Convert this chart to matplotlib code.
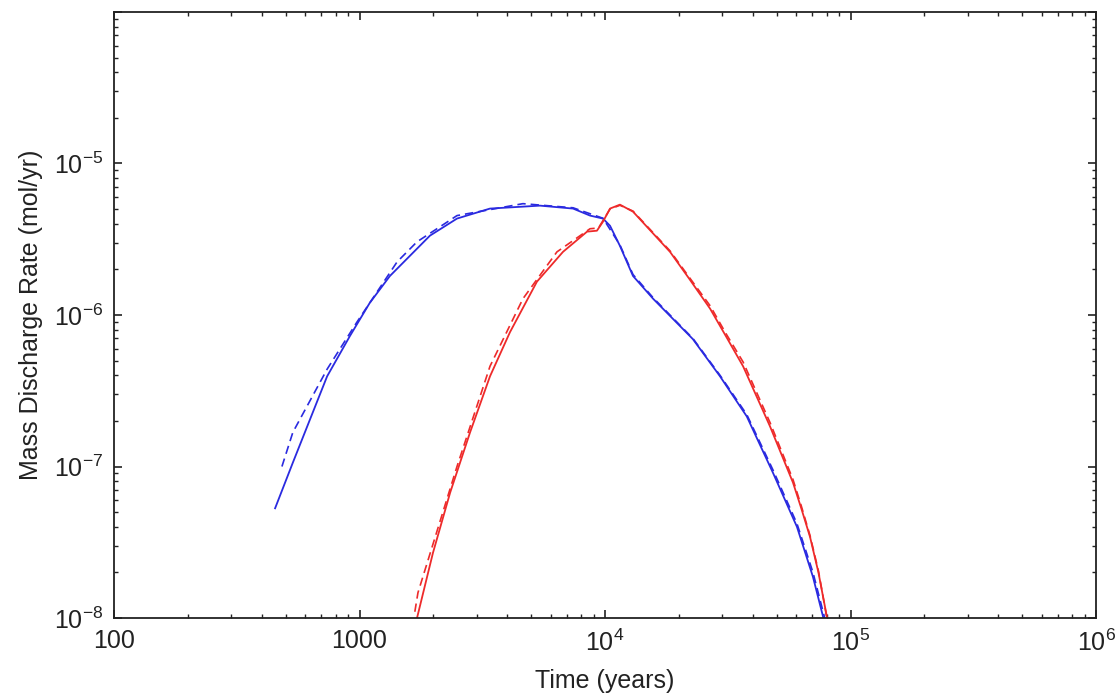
import matplotlib
matplotlib.use("Agg")
import matplotlib.pyplot as plt
from matplotlib.ticker import FixedLocator, FixedFormatter, LogLocator, NullFormatter

plt.rcParams['font.family'] = ['Liberation Sans', 'DejaVu Sans']
plt.rcParams['mathtext.fontset'] = 'custom'
plt.rcParams['mathtext.rm'] = 'Liberation Sans'

# blue, solid
blue_t = [453, 535, 738, 914, 1100, 1330, 1936, 2495, 3400, 5430, 7410, 8690, 9810,
          10480, 11500, 13000, 15700, 22800, 29400, 37800, 48300, 60500, 70300,
          77300, 79400]
blue_q = [5.3e-8, 1.06e-7, 3.94e-7, 7.27e-7, 1.2e-6, 1.81e-6, 3.34e-6, 4.33e-6, 5.04e-6,
          5.27e-6, 5.04e-6, 4.53e-6, 4.33e-6, 3.88e-6, 2.86e-6, 1.81e-6, 1.28e-6,
          6.93e-7, 3.94e-7, 2.14e-7, 9.1e-8, 4.0e-8, 1.87e-8, 1.02e-8, 8e-9]

# blue, dashed
blue_d_t = [483, 535, 738, 977, 1422, 1714, 2495, 4630, 7410, 9810, 11500, 13000,
            15700, 22800, 29400, 37800, 48300, 60500, 70300, 78500, 80500]
blue_d_q = [1.0e-7, 1.68e-7, 4.39e-7, 9.0e-7, 2.24e-6, 3.04e-6, 4.53e-6, 5.43e-6,
            5.1e-6, 4.35e-6, 2.9e-6, 1.85e-6, 1.3e-6, 7.0e-7, 4.0e-7, 2.2e-7,
            9.5e-8, 4.2e-8, 2.0e-8, 1.0e-8, 8e-9]

# red, solid
red_t = [1667, 1991, 2340, 2820, 3400, 4100, 5280, 6740, 8450, 9270, 9810, 10480,
         11500, 13000, 18400, 22000, 26800, 31000, 36500, 47000, 58300, 63000,
         68400, 74000, 80100, 81700]
red_q = [8.3e-9, 2.69e-8, 6.73e-8, 1.68e-7, 3.94e-7, 7.7e-7, 1.66e-6, 2.61e-6,
         3.55e-6, 3.6e-6, 4.13e-6, 5.04e-6, 5.35e-6, 4.81e-6, 2.61e-6, 1.74e-6,
         1.10e-6, 7.3e-7, 4.59e-7, 1.84e-7, 7.83e-8, 5.3e-8, 3.43e-8, 2.0e-8,
         1.02e-8, 8.3e-9]

# red, dashed
red_d_t = [1680, 1730, 2495, 3400, 4630, 6370, 8690, 9400, 10480, 11500, 13000,
           18400, 22000, 26800, 31000, 36500, 47000, 58300, 63000, 68400, 74000,
           80100, 81700]
red_d_q = [1.1e-8, 1.47e-8, 1.0e-7, 4.59e-7, 1.28e-6, 2.61e-6, 3.71e-6, 3.75e-6,
           5.0e-6, 5.3e-6, 4.85e-6, 2.65e-6, 1.78e-6, 1.15e-6, 7.6e-7, 4.9e-7,
           1.95e-7, 8.2e-8, 5.5e-8, 3.5e-8, 2.05e-8, 1.0e-8, 8e-9]

x_ticks = [100, 1000, 1e4, 1e5, 1e6]
x_labels = ['100', '1000', r'$\mathdefault{10^{4}}$', r'$\mathdefault{10^{5}}$',
            r'$\mathdefault{10^{6}}$']
y_ticks = [1e-8, 1e-7, 1e-6, 1e-5, 1e-4]
y_labels = [r'$\mathdefault{10^{-8}}$', r'$\mathdefault{10^{-7}}$',
            r'$\mathdefault{10^{-6}}$', r'$\mathdefault{10^{-5}}$', '']

blue = '#2a2ae0'
red = '#ee2a2a'

fig = plt.figure(figsize=(11.2, 7), dpi=100)
ax = fig.add_axes([0.1018, 0.1171, 0.8768, 0.8658])

ax.plot(blue_d_t, blue_d_q, color=blue, lw=1.2, dashes=(5, 3))
ax.plot(red_d_t, red_d_q, color=red, lw=1.2, dashes=(5, 3))
ax.plot(blue_t, blue_q, color=blue, lw=1.3)
ax.plot(red_t, red_q, color=red, lw=1.3)

ax.set_xscale('log')
ax.set_yscale('log')
ax.set_xlim(100, 1e6)
ax.set_ylim(1e-8, 1e-4)

ax.xaxis.set_major_locator(FixedLocator(x_ticks))
ax.xaxis.set_major_formatter(FixedFormatter(x_labels))
ax.yaxis.set_major_locator(FixedLocator(y_ticks))
ax.yaxis.set_major_formatter(FixedFormatter(y_labels))
ax.xaxis.set_minor_locator(LogLocator(base=10, subs=range(2, 10), numticks=20))
ax.yaxis.set_minor_locator(LogLocator(base=10, subs=range(2, 10), numticks=20))
ax.xaxis.set_minor_formatter(NullFormatter())
ax.yaxis.set_minor_formatter(NullFormatter())

ax.tick_params(which='both', direction='in', top=True, right=True,
               labelsize=18, color='#222222', labelcolor='#222222')
ax.tick_params(which='major', length=6, width=1.2, pad=8)
ax.tick_params(which='minor', length=3, width=1.0)
for s in ax.spines.values():
    s.set_linewidth(1.3)
    s.set_color('#222222')

ax.set_xlabel('Time (years)', fontsize=18, color='#222222', labelpad=10)
ax.set_ylabel('Mass Discharge Rate (mol/yr)', fontsize=18, color='#222222',
              labelpad=8)

fig.savefig('out.png', dpi=100)
